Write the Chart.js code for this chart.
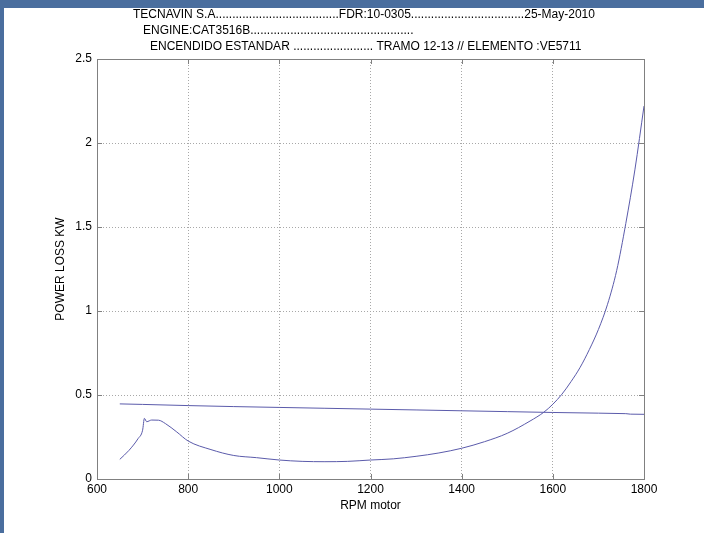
<!DOCTYPE html>
<html>
<head>
<meta charset="utf-8">
<script src="https://cdn.jsdelivr.net/npm/chart.js@4.4.1/dist/chart.umd.min.js"></script>
<style>
  html, body { margin: 0; padding: 0; background: #fff; }
  #wrap { position: relative; width: 704px; height: 533px; }
</style>
</head>
<body>
<div id="wrap"><canvas id="lossChart" width="704" height="533"></canvas></div>
<script>
// ── DATA ─────────────────────────────────────────────────────
const titleLines = [
  'TECNAVIN S.A.....................................FDR:10-0305..................................25-May-2010',
  'ENGINE:CAT3516B.................................................',
  'ENCENDIDO ESTANDAR ........................ TRAMO 12-13 // ELEMENTO :VE5711'
]
const xTicks = [600, 800, 1000, 1200, 1400, 1600, 1800]
const yTicks = [0, 0.5, 1, 1.5, 2, 2.5]

// straight line (upper at low rpm)
const rpmA = [650, 700, 800, 900, 1000, 1100, 1200, 1300, 1400, 1500, 1600, 1700, 1760, 1770, 1800]
const lossA = [0.447, 0.444, 0.437, 0.431, 0.426, 0.421, 0.416, 0.411, 0.406, 0.401, 0.396, 0.392, 0.389, 0.386, 0.385]

// curve
const rpmB = [650, 670, 690, 700, 704, 709, 720, 735, 750, 775, 800, 850, 900, 950, 1000, 1050, 1100, 1150, 1200,
  1250, 1300, 1350, 1400, 1450, 1500, 1550, 1580, 1600, 1620, 1640, 1660, 1680, 1700, 1720, 1740, 1760, 1780, 1800]
const lossB = [0.117, 0.17, 0.24, 0.29, 0.361, 0.341, 0.351, 0.35, 0.33, 0.28, 0.226, 0.175, 0.14, 0.127, 0.113, 0.105, 0.103, 0.105, 0.113,
  0.12, 0.135, 0.155, 0.183, 0.222, 0.272, 0.345, 0.397, 0.445, 0.505, 0.58, 0.665, 0.77, 0.89, 1.04, 1.24, 1.52, 1.84, 2.22]

const pts = (xs, ys) => xs.map((x, i) => ({ x, y: ys[i] }))
const LINE = '#5b5bab'
const FONT = "'Liberation Sans', Arial, sans-serif"

// ── FRAME / TITLE / INWARD TICKS ─────────────────────────────
const framePlugin = {
  id: 'frame',
  beforeDraw(chart) {
    const c = chart.ctx
    c.save()
    c.fillStyle = '#fff'
    c.fillRect(0, 0, chart.width, chart.height)
    c.fillStyle = '#4a6e9e'
    c.fillRect(0, 0, chart.width, 8)
    c.fillRect(0, 0, 4, chart.height)
    c.restore()
  },
  afterDraw(chart) {
    const c = chart.ctx
    const a = chart.chartArea
    const xs = chart.scales.x, ys = chart.scales.y
    c.save()
    c.strokeStyle = '#808080'
    c.lineWidth = 1
    c.strokeRect(Math.round(a.left) + 0.5, Math.round(a.top) + 0.5,
      Math.round(a.right - a.left), Math.round(a.bottom - a.top))
    c.beginPath()
    xTicks.forEach(v => {
      const px = Math.round(xs.getPixelForValue(v)) + 0.5
      c.moveTo(px, a.bottom); c.lineTo(px, a.bottom - 5)
      c.moveTo(px, a.top); c.lineTo(px, a.top + 5)
    })
    yTicks.forEach(v => {
      const py = Math.round(ys.getPixelForValue(v)) + 0.5
      c.moveTo(a.left, py); c.lineTo(a.left + 5, py)
      c.moveTo(a.right, py); c.lineTo(a.right - 5, py)
    })
    c.stroke()

    c.fillStyle = '#000'
    c.font = '12px ' + FONT
    c.textBaseline = 'middle'
    c.textAlign = 'left'
    c.fillText(titleLines[0], 133, 15)
    c.fillText(titleLines[1], 143, 31)
    c.fillText(titleLines[2], 150, 47)
    c.restore()
  }
}

new Chart(document.getElementById('lossChart'), {
  type: 'line',
  data: {
    datasets: [
      { data: pts(rpmA, lossA), borderColor: LINE, borderWidth: 1, pointRadius: 0, tension: 0 },
      { data: pts(rpmB, lossB), borderColor: LINE, borderWidth: 1, pointRadius: 0, cubicInterpolationMode: 'monotone' }
    ]
  },
  options: {
    responsive: false,
    animation: false,
    layout: { padding: { left: 49, top: 59, right: 60, bottom: 16 } },
    plugins: { legend: { display: false }, tooltip: { enabled: false } },
    scales: {
      x: {
        type: 'linear',
        min: 600, max: 1800,
        afterBuildTicks: s => { s.ticks = xTicks.map(v => ({ value: v })) },
        afterFit: s => { s.height = 38 },
        ticks: { color: '#000', padding: 3, font: { family: FONT, size: 12 }, callback: v => String(v) },
        grid: { color: '#a8a8a8', lineWidth: 1, drawTicks: false },
        border: { display: false, dash: [1, 2] },
        title: { display: true, text: 'RPM motor', color: '#000', font: { family: FONT, size: 12 }, padding: { top: 0, bottom: 4 } }
      },
      y: {
        min: 0, max: 2.5,
        afterBuildTicks: s => { s.ticks = yTicks.map(v => ({ value: v })) },
        afterFit: s => { s.width = 48 },
        ticks: { color: '#000', padding: 5, font: { family: FONT, size: 12 }, callback: v => String(v) },
        grid: { color: '#a8a8a8', lineWidth: 1, drawTicks: false },
        border: { display: false, dash: [1, 2] },
        title: { display: true, text: 'POWER LOSS KW', color: '#000', font: { family: FONT, size: 12 }, padding: { top: 4, bottom: 0 } }
      }
    }
  },
  plugins: [framePlugin]
})
</script>
</body>
</html>
